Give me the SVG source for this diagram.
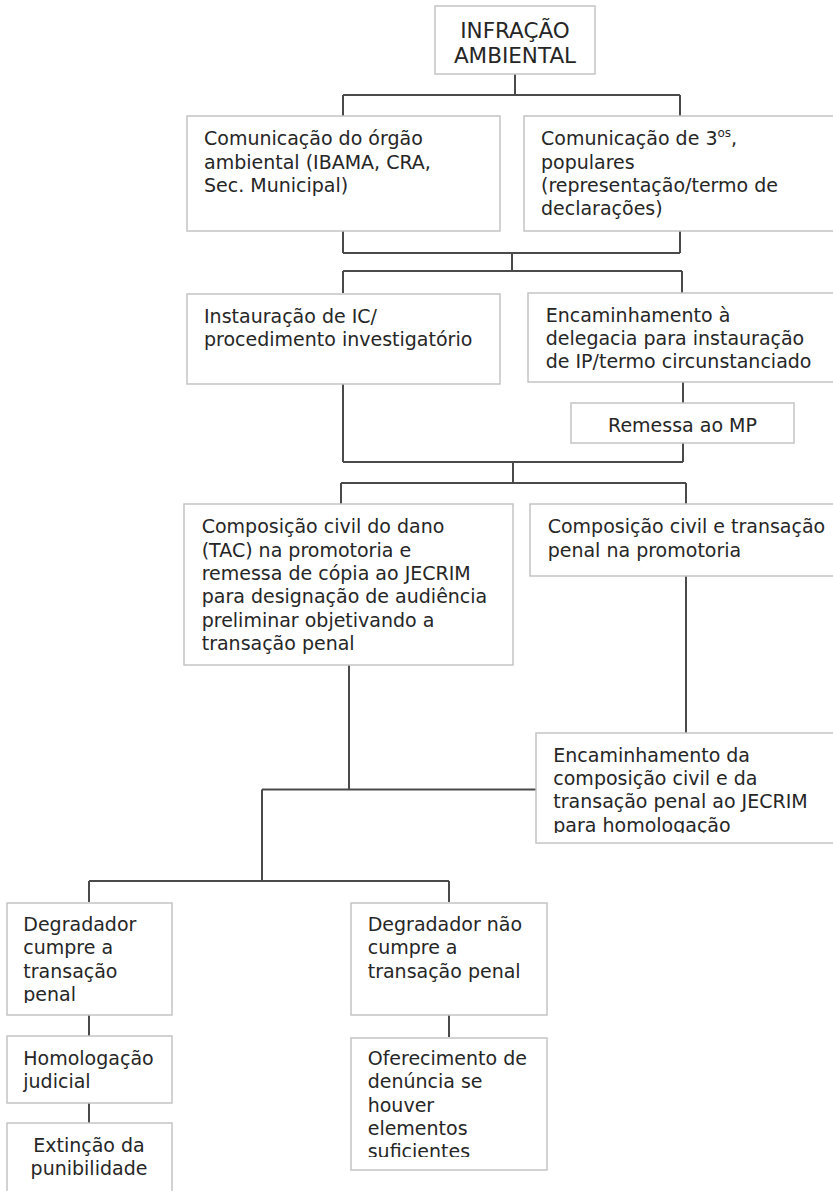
<svg xmlns="http://www.w3.org/2000/svg" width="833" height="1191" viewBox="0 0 833 1191">
<style>
.box{fill:#fff;stroke:#c4c4c4;stroke-width:1.5}
.t{font-family:"DejaVu Sans",Verdana,sans-serif;font-size:19px;fill:#262626}
.tt{font-family:"DejaVu Sans",Verdana,sans-serif;font-size:21.5px;fill:#262626;text-anchor:middle}
.c{text-anchor:middle}
.con{fill:none;stroke:#4a4a4a;stroke-width:2}
</style>
<defs>
<clipPath id="clipG"><rect x="536" y="733" width="300" height="100"/></clipPath>
<clipPath id="clipH"><rect x="7" y="903" width="165" height="100"/></clipPath>
<clipPath id="clipL"><rect x="351" y="1038" width="196" height="119"/></clipPath>
</defs>
<rect width="833" height="1191" fill="#fff"/>
<g id="connectors" class="con">
<path d="M515 74V95M343 95H680M343 95V116M680 95V116"/>
<path d="M343 231V253M680 231V253M343 253H680M512 253V271M343 271H682M343 271V293M682 271V293"/>
<path d="M683 382V403M683 443V462M343 384V462M343 462H683M513 462V483M341 483H686M341 483V504M686 483V504"/>
<path d="M686 576V733M349 665V789.5M262 789.5H536M262 789.5V881M89 881H449M89 881V902M449 881V902"/>
<path d="M89 1015V1036M449 1015V1037M89 1103V1123"/>
</g>
<g id="n-infracao">
<rect class="box" x="435" y="6" width="160" height="68"/>
<text class="tt" x="515" y="38">INFRAÇÃO</text>
<text class="tt" x="515" y="63">AMBIENTAL</text>
</g>
<g id="n-orgao">
<rect class="box" x="187" y="116" width="313" height="115"/>
<text class="t" x="204" y="145">Comunicação do órgão</text>
<text class="t" x="204" y="168.5">ambiental (IBAMA, CRA,</text>
<text class="t" x="204" y="192">Sec. Municipal)</text>
</g>
<g id="n-terceiros">
<rect class="box" x="524" y="116" width="320" height="115"/>
<text class="t" x="541" y="145">Comunicação de 3<tspan font-size="12" dy="-8">os</tspan><tspan dy="8">,</tspan></text>
<text class="t" x="541" y="168.5">populares</text>
<text class="t" x="541" y="192">(representação/termo de</text>
<text class="t" x="541" y="215">declarações)</text>
</g>
<g id="n-ic">
<rect class="box" x="187" y="294" width="313" height="90"/>
<text class="t" x="204" y="322.7">Instauração de IC/</text>
<text class="t" x="204" y="346">procedimento investigatório</text>
</g>
<g id="n-delegacia">
<rect class="box" x="528" y="293" width="315" height="89"/>
<text class="t" x="545.7" y="321.7">Encaminhamento à</text>
<text class="t" x="545.7" y="345">delegacia para instauração</text>
<text class="t" x="545.7" y="368.3">de IP/termo circunstanciado</text>
</g>
<g id="n-remessa">
<rect class="box" x="571" y="403" width="223" height="40"/>
<text class="t c" x="682.5" y="431.5">Remessa ao MP</text>
</g>
<g id="n-tac">
<rect class="box" x="184" y="504" width="329" height="161"/>
<text class="t" x="201.7" y="533.3">Composição civil do dano</text>
<text class="t" x="201.7" y="556.7">(TAC) na promotoria e</text>
<text class="t" x="201.7" y="580">remessa de cópia ao JECRIM</text>
<text class="t" x="201.7" y="603.3">para designação de audiência</text>
<text class="t" x="201.7" y="626.7">preliminar objetivando a</text>
<text class="t" x="201.7" y="650">transação penal</text>
</g>
<g id="n-promotoria">
<rect class="box" x="530" y="504" width="315" height="72"/>
<text class="t" x="547.7" y="533.3">Composição civil e transação</text>
<text class="t" x="547.7" y="556.7">penal na promotoria</text>
</g>
<g id="n-homologacao-jecrim">
<rect class="box" x="536" y="733" width="305" height="110"/>
<g clip-path="url(#clipG)">
<text class="t" x="553.3" y="761.7">Encaminhamento da</text>
<text class="t" x="553.3" y="785">composição civil e da</text>
<text class="t" x="553.3" y="808.3">transação penal ao JECRIM</text>
<text class="t" x="553.3" y="831.7">para homologação</text>
</g>
</g>
<g id="n-cumpre">
<rect class="box" x="7" y="903" width="165" height="112"/>
<g clip-path="url(#clipH)">
<text class="t" x="23.3" y="931">Degradador</text>
<text class="t" x="23.3" y="954.3">cumpre a</text>
<text class="t" x="23.3" y="977.7">transação</text>
<text class="t" x="23.3" y="1001">penal</text>
</g>
</g>
<g id="n-nao-cumpre">
<rect class="box" x="351" y="903" width="196" height="112"/>
<text class="t" x="367.7" y="931">Degradador não</text>
<text class="t" x="367.7" y="954.3">cumpre a</text>
<text class="t" x="367.7" y="977.7">transação penal</text>
</g>
<g id="n-homologacao-judicial">
<rect class="box" x="7" y="1036" width="165" height="67"/>
<text class="t" x="23.3" y="1065">Homologação</text>
<text class="t" x="23.3" y="1088">judicial</text>
</g>
<g id="n-extincao">
<rect class="box" x="7" y="1123" width="165" height="80"/>
<text class="t c" x="89" y="1152">Extinção da</text>
<text class="t c" x="89" y="1175">punibilidade</text>
</g>
<g id="n-denuncia">
<rect class="box" x="351" y="1038" width="196" height="132"/>
<g clip-path="url(#clipL)">
<text class="t" x="367.7" y="1065">Oferecimento de</text>
<text class="t" x="367.7" y="1088.3">denúncia se</text>
<text class="t" x="367.7" y="1111.7">houver</text>
<text class="t" x="367.7" y="1135">elementos</text>
<text class="t" x="367.7" y="1158.3">suficientes</text>
</g>
</g>
</svg>
